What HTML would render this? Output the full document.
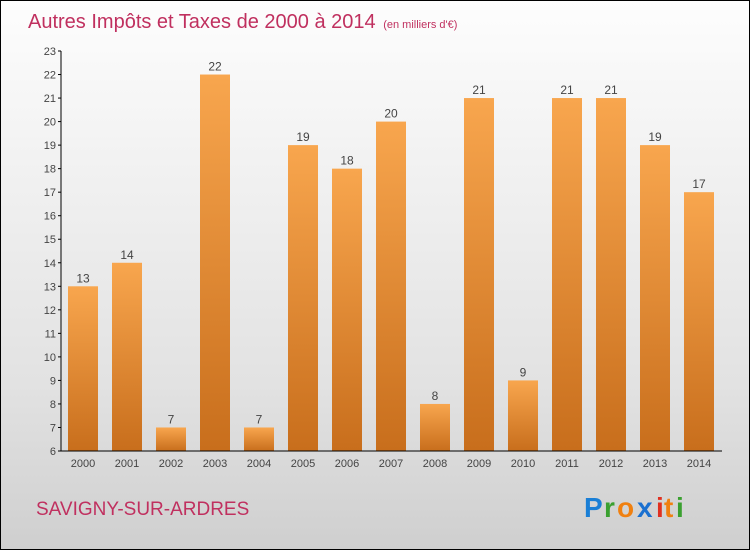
<!DOCTYPE html>
<html><head><meta charset="utf-8"><style>
body{margin:0;width:750px;height:550px;overflow:hidden}
#c{position:absolute;left:0;top:0;width:748px;height:548px;border:1px solid #000;background:linear-gradient(#fdfdfd,#e2e2e2 70%,#cfcfcf)}
text{font-family:"Liberation Sans",sans-serif}
</style></head><body>
<div id="c">
<svg id="s" width="750" height="550">
<defs><linearGradient id="g" x1="0" y1="0" x2="0" y2="1"><stop offset="0" stop-color="#f8a64e"/><stop offset="1" stop-color="#c86e1c"/></linearGradient></defs>
<text x="27" y="27" font-size="20" fill="#c0305f">Autres Impôts et Taxes de 2000 à 2014 <tspan font-size="11" dx="2">(en milliers d'€)</tspan></text>
<text x="35" y="514" font-size="19" fill="#c0305f">SAVIGNY-SUR-ARDRES</text>
<g font-size="28" font-weight="bold" font-family="Liberation Sans,sans-serif">
<text x="583" y="516" fill="#1a7fd6">P</text><text x="603" y="516" fill="#3aa030">r</text><text x="616" y="516" fill="#f08010">o</text><text x="636" y="516" fill="#1a70d0">x</text><text x="655" y="516" fill="#e03020">i</text><text x="663" y="516" fill="#f08010">t</text><text x="675" y="516" fill="#3aa030">i</text></g>
<g id="plot"></g>
</svg></div>
<script>
const years=["2000","2001","2002","2003","2004","2005","2006","2007","2008","2009","2010","2011","2012","2013","2014"];
const values=[13,14,7,22,7,19,18,20,8,21,9,21,21,19,17];
const yTicks=[6,7,8,9,10,11,12,13,14,15,16,17,18,19,20,21,22,23];
const ns="http://www.w3.org/2000/svg",p=document.getElementById('plot');
const y=v=>450-(v-6)*400/17, x=i=>82+i*44;
function el(t,a,txt){const e=document.createElementNS(ns,t);for(const k in a)e.setAttribute(k,a[k]);if(txt!=null)e.textContent=txt;p.appendChild(e);return e;}
values.forEach((v,i)=>{
const r=el('rect',{x:x(i)-15,y:y(v),width:30,height:450-y(v),fill:'url(#g)'});


const t=el('text',{x:x(i),y:y(v)-4,'font-size':12,fill:'#444','text-anchor':'middle'},v);


const xl=el('text',{x:x(i),y:466,'font-size':11,fill:'#444','text-anchor':'middle'},years[i]);


});
yTicks.forEach(v=>{
const t=el('text',{x:55,y:y(v)+4,'font-size':11,fill:'#444','text-anchor':'end'},v);


const l=el('line',{x1:57,x2:60,y1:y(v),y2:y(v),stroke:'#000'});


});
const ya=el('line',{x1:60,x2:60,y1:50,y2:450,stroke:'#000'});


const xa=el('line',{x1:60,x2:721,y1:450,y2:450,stroke:'#000'});


</script></body></html>
